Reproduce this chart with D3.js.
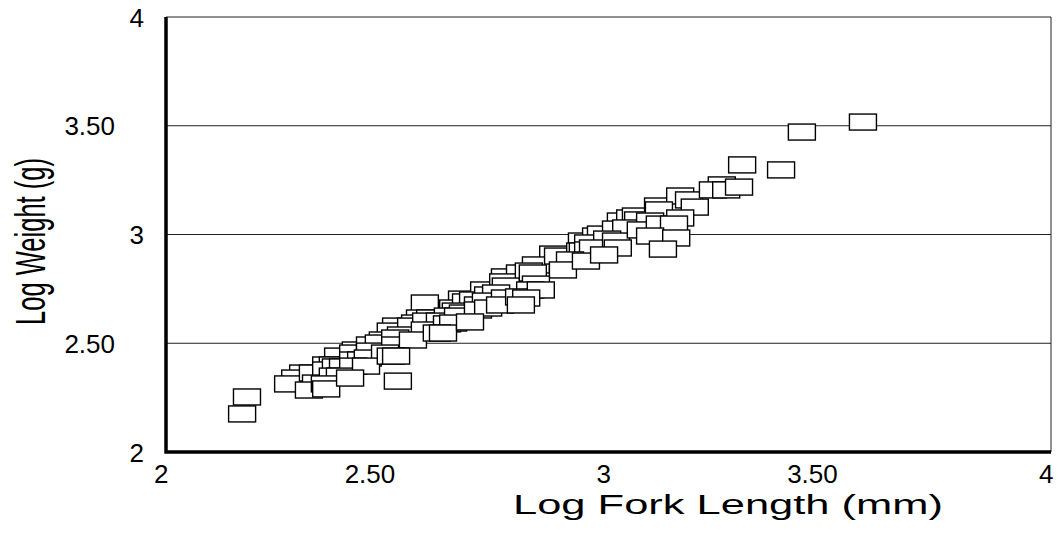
<!DOCTYPE html>
<html lang="en">
  <head>
    <meta charset="utf-8" />
    <title>Log Weight vs Log Fork Length</title>
    <script src="https://cdnjs.cloudflare.com/ajax/libs/d3/7.4.4/d3.min.js"></script>
    <style>
      body {
        margin: 0;
        background: #fff;
      }
      svg text {
        font-family: 'Liberation Sans', Arial, sans-serif;
        fill: #000;
      }
    </style>
  </head>
  <body>
    <div id="chart"></div>

    <script type="text/javascript">
      // Tick values and labels
      const xTicks = [2, 2.5, 3, 3.5, 4]
      const xTickLabels = ['2', '2.50', '3', '3.50', '4']
      const yTicks = [2, 2.5, 3, 3.5, 4]
      const yTickLabels = ['2', '2.50', '3', '3.50', '4']
      const gridValues = [2.5, 3, 3.5]

      // Log fork length (mm)
      const forkLength = [
        2.172, 2.183, 2.276, 2.292, 2.31, 2.323, 2.332, 2.339, 2.359, 2.362, 2.362, 2.362, 2.377, 2.377, 2.384, 2.389,
        2.393, 2.4, 2.416, 2.423, 2.423, 2.423, 2.429, 2.441, 2.452, 2.456, 2.461, 2.461, 2.481, 2.49, 2.495, 2.508,
        2.508, 2.518, 2.518, 2.52, 2.52, 2.524, 2.531, 2.554, 2.558, 2.563, 2.574, 2.585, 2.585, 2.588, 2.597, 2.612,
        2.619, 2.626, 2.635, 2.637, 2.649, 2.649, 2.655, 2.66, 2.669, 2.671, 2.678, 2.687, 2.694, 2.705, 2.705, 2.719,
        2.723, 2.728, 2.728, 2.746, 2.755, 2.762, 2.766, 2.766, 2.768, 2.798, 2.8, 2.802, 2.814, 2.82, 2.823, 2.829,
        2.836, 2.836, 2.847, 2.875, 2.886, 2.897, 2.913, 2.936, 2.94, 2.942, 2.949, 2.954, 2.954, 2.965, 2.972, 2.983,
        2.99, 2.997, 3.017, 3.017, 3.021, 3.028, 3.04, 3.049, 3.062, 3.067, 3.073, 3.094, 3.094, 3.112, 3.114, 3.116,
        3.123, 3.148, 3.153, 3.162, 3.162, 3.182, 3.195, 3.236, 3.256, 3.266, 3.295, 3.302, 3.39, 3.437, 3.575
      ]

      // Log weight (g)
      const weight = [
        2.175, 2.253, 2.313, 2.34, 2.363, 2.285, 2.363, 2.317, 2.313, 2.29, 2.4, 2.377, 2.4, 2.349, 2.391, 2.441, 2.349,
        2.391, 2.34, 2.455, 2.423, 2.395, 2.469, 2.423, 2.395, 2.432, 2.492, 2.464, 2.501, 2.515, 2.455, 2.441, 2.556,
        2.524, 2.492, 2.579, 2.441, 2.326, 2.538, 2.579, 2.515, 2.593, 2.616, 2.685, 2.561, 2.602, 2.616, 2.547, 2.602,
        2.547, 2.589, 2.625, 2.662, 2.593, 2.648, 2.625, 2.703, 2.639, 2.69, 2.598, 2.699, 2.676, 2.653, 2.745, 2.694,
        2.722, 2.662, 2.731, 2.676, 2.782, 2.805, 2.708, 2.763, 2.713, 2.823, 2.676, 2.708, 2.832, 2.745, 2.823, 2.86,
        2.772, 2.745, 2.91, 2.901, 2.837, 2.883, 2.924, 2.97, 2.924, 2.878, 2.961, 2.929, 2.938, 2.993, 3.002, 2.906,
        2.979, 3.025, 2.97, 2.938, 3.062, 3.03, 3.076, 3.085, 3.067, 3.021, 3.062, 2.993, 3.131, 3.113, 3.048, 2.933,
        3.048, 2.984, 3.177, 3.076, 3.159, 3.126, 3.205, 3.228, 3.205, 3.218, 3.32, 3.297, 3.471, 3.517
      ]

      const width = 1058,
        height = 533

      const svg = d3.select('#chart').append('svg').attr('width', width).attr('height', height)

      const x = d3.scaleLinear().domain([2, 4]).range([166, 1051])
      const y = d3.scaleLinear().domain([2, 4]).range([452, 17])

      // Horizontal grid lines
      svg
        .append('g')
        .selectAll('line')
        .data(gridValues)
        .enter()
        .append('line')
        .attr('x1', x(2))
        .attr('x2', x(4))
        .attr('y1', (d) => y(d))
        .attr('y2', (d) => y(d))
        .attr('stroke', '#222')
        .attr('stroke-width', 1)

      // Thin top and right border
      svg
        .append('path')
        .attr('d', 'M' + x(2) + ',' + y(4) + 'H' + x(4) + 'V' + y(2))
        .attr('fill', 'none')
        .attr('stroke', '#222')
        .attr('stroke-width', 1)

      // Points: drawn so that lower-right boxes sit on top
      const points = forkLength.map((d, i) => ({ fl: d, w: weight[i] }))
      points.sort((a, b) => a.fl - a.w - (b.fl - b.w))

      const boxW = 27,
        boxH = 16
      svg
        .append('g')
        .selectAll('rect')
        .data(points)
        .enter()
        .append('rect')
        .attr('x', (d) => x(d.fl) - boxW / 2)
        .attr('y', (d) => y(d.w) - boxH / 2)
        .attr('width', boxW)
        .attr('height', boxH)
        .attr('fill', '#fff')
        .attr('stroke', '#000')
        .attr('stroke-width', 1.4)

      // X axis
      const xAxis = svg
        .append('g')
        .attr('transform', 'translate(0,' + y(2) + ')')
        .call(
          d3
            .axisBottom(x)
            .tickValues(xTicks)
            .tickSize(0)
            .tickFormat((d, i) => xTickLabels[i])
        )
      xAxis.select('.domain').remove()
      xAxis
        .selectAll('text')
        .attr('font-size', 26)
        .attr('text-anchor', 'end')
        .attr('dy', null)
        .attr('y', 31)
        .attr('x', (d, i) => (xTickLabels[i].length > 1 ? 7.5 : 2))

      // Y axis
      const yAxis = svg
        .append('g')
        .attr('transform', 'translate(' + x(2) + ',0)')
        .call(
          d3
            .axisLeft(y)
            .tickValues(yTicks)
            .tickSize(0)
            .tickFormat((d, i) => yTickLabels[i])
        )
      yAxis.select('.domain').remove()
      yAxis
        .selectAll('text')
        .attr('font-size', 26)
        .attr('text-anchor', 'end')
        .attr('dy', '0.35em')
        .attr('x', (d, i) => (yTickLabels[i].length > 1 ? -51 : -22))

      // Thick left and bottom axis lines
      svg
        .append('path')
        .attr('d', 'M' + x(2) + ',' + y(4) + 'V' + y(2) + 'H' + x(4))
        .attr('fill', 'none')
        .attr('stroke', '#000')
        .attr('stroke-width', 3.5)

      // Axis titles
      svg
        .append('text')
        .attr('x', 513)
        .attr('y', 514)
        .attr('font-size', 27)
        .attr('textLength', 430)
        .attr('lengthAdjust', 'spacingAndGlyphs')
        .text('Log Fork Length (mm)')

      svg
        .append('text')
        .attr('transform', 'translate(45,325) rotate(-90)')
        .attr('font-size', 43)
        .attr('textLength', 167)
        .attr('lengthAdjust', 'spacingAndGlyphs')
        .text('Log Weight (g)')
    </script>
  </body>
</html>
